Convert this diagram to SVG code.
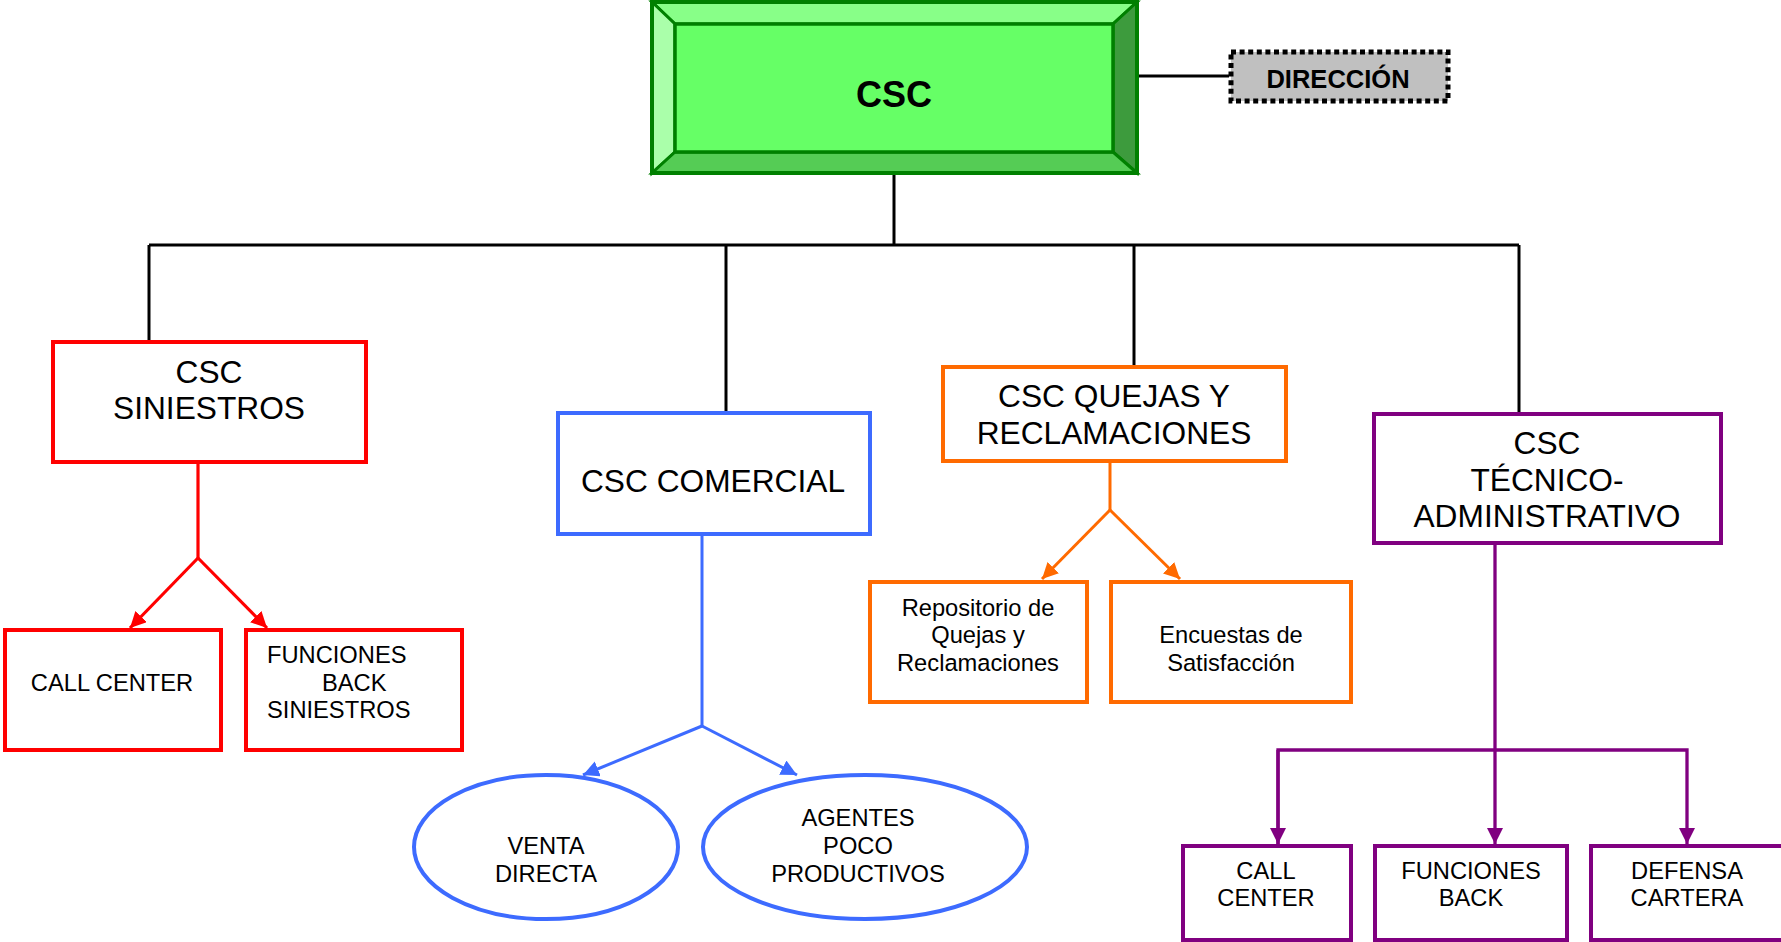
<svg xmlns="http://www.w3.org/2000/svg" width="1781" height="942" viewBox="0 0 1781 942">
<style>
text{font-family:"Liberation Sans",Arial,sans-serif;fill:#000;text-anchor:middle}
.big{font-size:31.7px}
.sm{font-size:23.7px}
.red{fill:#fff;stroke:#ff0000;stroke-width:4}
.blue{fill:#fff;stroke:#3d6bff;stroke-width:4}
.org{fill:#fff;stroke:#ff6a00;stroke-width:4}
.pur{fill:#fff;stroke:#800080;stroke-width:4}
.blk{stroke:#000;stroke-width:3;fill:none}
.cr{stroke:#ff0000;stroke-width:3.2;fill:none}
.cb{stroke:#3d6bff;stroke-width:3;fill:none}
.co{stroke:#ff6a00;stroke-width:3;fill:none}
.cp{stroke:#800080;stroke-width:3.3;fill:none}
</style>
<defs>
<marker id="ar" markerUnits="userSpaceOnUse" markerWidth="17" markerHeight="17" refX="16" refY="8" orient="auto"><path d="M0,0 L16,8 L0,16 z" fill="#ff0000"/></marker>
<marker id="ab" markerUnits="userSpaceOnUse" markerWidth="17" markerHeight="17" refX="16" refY="8" orient="auto"><path d="M0,0 L16,8 L0,16 z" fill="#3d6bff"/></marker>
<marker id="ao" markerUnits="userSpaceOnUse" markerWidth="17" markerHeight="17" refX="16" refY="8" orient="auto"><path d="M0,0 L16,8 L0,16 z" fill="#ff6a00"/></marker>
<marker id="ap" markerUnits="userSpaceOnUse" markerWidth="17" markerHeight="17" refX="16" refY="8" orient="auto"><path d="M0,0 L16,8 L0,16 z" fill="#800080"/></marker>
</defs>

<g id="connectors">
<line class="blk" x1="1137" y1="76" x2="1229" y2="76" stroke-width="2.5"/>
<line class="blk" x1="894" y1="173" x2="894" y2="245"/>
<line class="blk" x1="149" y1="245" x2="1519" y2="245" stroke-width="4"/>
<line class="blk" x1="149" y1="245" x2="149" y2="341"/>
<line class="blk" x1="726" y1="245" x2="726" y2="412"/>
<line class="blk" x1="1134" y1="245" x2="1134" y2="366"/>
<line class="blk" x1="1519" y1="245" x2="1519" y2="413"/>
<polyline class="cr" points="198,463 198,558"/>
<line class="cr" x1="198" y1="558" x2="130" y2="628" marker-end="url(#ar)"/>
<line class="cr" x1="198" y1="558" x2="267" y2="628" marker-end="url(#ar)"/>
<line class="cb" x1="702" y1="534" x2="702" y2="726"/>
<line class="cb" x1="702" y1="726" x2="583" y2="775" marker-end="url(#ab)"/>
<line class="cb" x1="702" y1="726" x2="797" y2="775" marker-end="url(#ab)"/>
<line class="co" x1="1110" y1="461" x2="1110" y2="510"/>
<line class="co" x1="1110" y1="510" x2="1042" y2="579" marker-end="url(#ao)"/>
<line class="co" x1="1110" y1="510" x2="1180" y2="579" marker-end="url(#ao)"/>
<line class="cp" x1="1495" y1="535" x2="1495" y2="844" marker-end="url(#ap)"/>
<polyline class="cp" points="1278,844 1278,750 1687,750 1687,844" marker-end="url(#ap)"/>
<line class="cp" x1="1278" y1="750" x2="1278" y2="844" marker-end="url(#ap)"/>
</g>

<g id="csc">
<rect x="652" y="2" width="485" height="171" fill="#66ff66"/>
<polygon points="652,2 1137,2 1113,24 675,24" fill="#88ff88" stroke="#008000" stroke-width="3"/>
<polygon points="652,2 675,24 675,152 652,173" fill="#aaffaa" stroke="#008000" stroke-width="3"/>
<polygon points="1137,2 1137,173 1113,152 1113,24" fill="#3d9b3d" stroke="#008000" stroke-width="3"/>
<polygon points="652,173 675,152 1113,152 1137,173" fill="#55cc55" stroke="#008000" stroke-width="3"/>
<rect x="675" y="24" width="438" height="128" fill="#66ff66" stroke="#008000" stroke-width="3.5"/>
<rect x="652" y="2" width="485" height="171" fill="none" stroke="#008000" stroke-width="4"/>
<text x="894" y="107" style="font-size:36px;font-weight:bold">CSC</text>
</g>

<g id="direccion">
<rect x="1231" y="52" width="217" height="49" fill="#c0c0c0" stroke="#000" stroke-width="5" stroke-dasharray="5 3.6"/>
<text x="1338" y="88" style="font-size:25.5px;font-weight:bold">DIRECCIÓN</text>
</g>

<g id="siniestros">
<rect class="red" x="53" y="342" width="313" height="120"/>
<text class="big" x="209" y="383">CSC</text>
<text class="big" x="209" y="419">SINIESTROS</text>
</g>
<g id="call-center-sin">
<rect class="red" x="5" y="630" width="216" height="120"/>
<text class="sm" x="112" y="691">CALL CENTER</text>
</g>
<g id="funciones-back-sin">
<rect class="red" x="246" y="630" width="216" height="120"/>
<text class="sm" x="267" y="663" style="text-anchor:start">FUNCIONES</text>
<text class="sm" x="322" y="691" style="text-anchor:start">BACK</text>
<text class="sm" x="267" y="718" style="text-anchor:start">SINIESTROS</text>
</g>

<g id="comercial">
<rect class="blue" x="558" y="413" width="312" height="121"/>
<text class="big" x="713" y="492">CSC COMERCIAL</text>
</g>
<g id="venta-directa">
<ellipse class="blue" cx="546" cy="847" rx="132" ry="72"/>
<text class="sm" x="546" y="854">VENTA</text>
<text class="sm" x="546" y="882">DIRECTA</text>
</g>
<g id="agentes">
<ellipse class="blue" cx="865" cy="847" rx="162" ry="72"/>
<text class="sm" x="858" y="826">AGENTES</text>
<text class="sm" x="858" y="854">POCO</text>
<text class="sm" x="858" y="882">PRODUCTIVOS</text>
</g>

<g id="quejas">
<rect class="org" x="943" y="367" width="343" height="94"/>
<text class="big" x="1114" y="407">CSC QUEJAS Y</text>
<text class="big" x="1114" y="444">RECLAMACIONES</text>
</g>
<g id="repositorio">
<rect class="org" x="870" y="582" width="217" height="120"/>
<text class="sm" x="978" y="616">Repositorio de</text>
<text class="sm" x="978" y="643">Quejas y</text>
<text class="sm" x="978" y="671">Reclamaciones</text>
</g>
<g id="encuestas">
<rect class="org" x="1111" y="582" width="240" height="120"/>
<text class="sm" x="1231" y="643">Encuestas de</text>
<text class="sm" x="1231" y="671">Satisfacción</text>
</g>

<g id="tecnico">
<rect class="pur" x="1374" y="414" width="347" height="129"/>
<text class="big" x="1547" y="454">CSC</text>
<text class="big" x="1547" y="491">TÉCNICO-</text>
<text class="big" x="1547" y="527">ADMINISTRATIVO</text>
</g>
<g id="call-center-tec">
<rect class="pur" x="1183" y="846" width="168" height="94"/>
<text class="sm" x="1266" y="879">CALL</text>
<text class="sm" x="1266" y="906">CENTER</text>
</g>
<g id="funciones-back-tec">
<rect class="pur" x="1375" y="846" width="192" height="94"/>
<text class="sm" x="1471" y="879">FUNCIONES</text>
<text class="sm" x="1471" y="906">BACK</text>
</g>
<g id="defensa-cartera">
<rect class="pur" x="1591" y="846" width="200" height="94"/>
<text class="sm" x="1687" y="879">DEFENSA</text>
<text class="sm" x="1687" y="906">CARTERA</text>
</g>
</svg>
